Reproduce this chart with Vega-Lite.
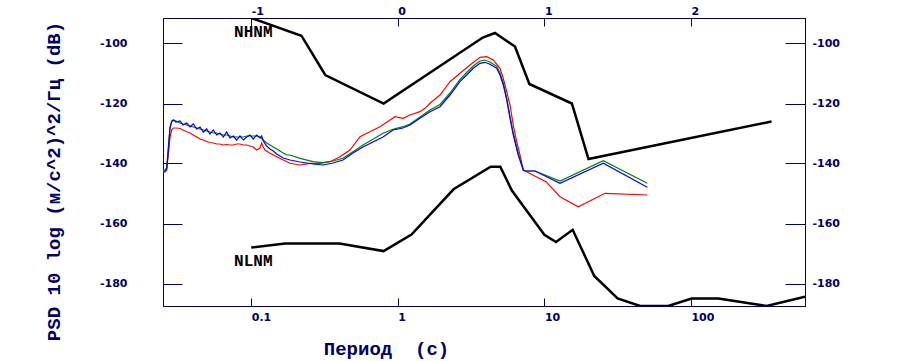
{
  "$schema": "https://vega.github.io/schema/vega-lite/v6.json",
  "width": 642,
  "height": 288,
  "autosize": {"type": "none"},
  "padding": {"left": 163, "top": 18, "right": 100, "bottom": 55},
  "background": "white",
  "config": {
    "view": {"stroke": "#000066", "strokeWidth": 1},
    "axis": {
      "grid": false,
      "labelFont": "DejaVu Sans",
      "labelFontWeight": "bold",
      "labelFontSize": 11,
      "labelColor": "#000066",
      "tickColor": "#000066",
      "domainColor": "#000066",
      "titleColor": "#000066",
      "titleFont": "Liberation Mono",
      "titleFontWeight": "bold",
      "titleFontSize": 19
    }
  },
  "datasets": {
    "nm": [
      {"model": "NHNM", "log_period": -1, "psd_db": -91.5},
      {"model": "NHNM", "log_period": -0.6576, "psd_db": -97.4},
      {"model": "NHNM", "log_period": -0.4949, "psd_db": -110.5},
      {"model": "NHNM", "log_period": -0.0969, "psd_db": -120.0},
      {"model": "NHNM", "log_period": 0.5798, "psd_db": -98.0},
      {"model": "NHNM", "log_period": 0.6628, "psd_db": -96.5},
      {"model": "NHNM", "log_period": 0.7993, "psd_db": -101.0},
      {"model": "NHNM", "log_period": 0.8976, "psd_db": -113.5},
      {"model": "NHNM", "log_period": 1.1875, "psd_db": -120.0},
      {"model": "NHNM", "log_period": 1.301, "psd_db": -138.5},
      {"model": "NHNM", "log_period": 2.55, "psd_db": -126.0},
      {"model": "NLNM", "log_period": -1, "psd_db": -168.0},
      {"model": "NLNM", "log_period": -0.7696, "psd_db": -166.7},
      {"model": "NLNM", "log_period": -0.3979, "psd_db": -166.7},
      {"model": "NLNM", "log_period": -0.0969, "psd_db": -169.2},
      {"model": "NLNM", "log_period": 0.0934, "psd_db": -163.7},
      {"model": "NLNM", "log_period": 0.3802, "psd_db": -148.6},
      {"model": "NLNM", "log_period": 0.6335, "psd_db": -141.1},
      {"model": "NLNM", "log_period": 0.699, "psd_db": -141.1},
      {"model": "NLNM", "log_period": 0.7782, "psd_db": -149.0},
      {"model": "NLNM", "log_period": 1.0, "psd_db": -163.75},
      {"model": "NLNM", "log_period": 1.0792, "psd_db": -166.2},
      {"model": "NLNM", "log_period": 1.1931, "psd_db": -162.1},
      {"model": "NLNM", "log_period": 1.3404, "psd_db": -177.5},
      {"model": "NLNM", "log_period": 1.4997, "psd_db": -185.0},
      {"model": "NLNM", "log_period": 1.6532, "psd_db": -187.5},
      {"model": "NLNM", "log_period": 1.8451, "psd_db": -187.5},
      {"model": "NLNM", "log_period": 2.0043, "psd_db": -185.0},
      {"model": "NLNM", "log_period": 2.1875, "psd_db": -185.0},
      {"model": "NLNM", "log_period": 2.5159, "psd_db": -187.5},
      {"model": "NLNM", "log_period": 2.7782, "psd_db": -184.4}
    ],
    "psd": [
      {"series": "red", "log_period": -1.602, "psd_db": -142.17},
      {"series": "red", "log_period": -1.5884, "psd_db": -142.17},
      {"series": "red", "log_period": -1.5768, "psd_db": -141.5},
      {"series": "red", "log_period": -1.5659, "psd_db": -137.17},
      {"series": "red", "log_period": -1.5543, "psd_db": -131.17},
      {"series": "red", "log_period": -1.5427, "psd_db": -128.83},
      {"series": "red", "log_period": -1.5318, "psd_db": -128.17},
      {"series": "red", "log_period": -1.5134, "psd_db": -128.17},
      {"series": "red", "log_period": -1.4861, "psd_db": -128.33},
      {"series": "red", "log_period": -1.4656, "psd_db": -128.83},
      {"series": "red", "log_period": -1.4404, "psd_db": -129.4},
      {"series": "red", "log_period": -1.4179, "psd_db": -129.83},
      {"series": "red", "log_period": -1.3953, "psd_db": -130.5},
      {"series": "red", "log_period": -1.3721, "psd_db": -131.17},
      {"series": "red", "log_period": -1.3496, "psd_db": -131.83},
      {"series": "red", "log_period": -1.3271, "psd_db": -132.17},
      {"series": "red", "log_period": -1.3039, "psd_db": -132.67},
      {"series": "red", "log_period": -1.2814, "psd_db": -133.0},
      {"series": "red", "log_period": -1.2589, "psd_db": -133.17},
      {"series": "red", "log_period": -1.2357, "psd_db": -133.5},
      {"series": "red", "log_period": -1.2132, "psd_db": -133.5},
      {"series": "red", "log_period": -1.1906, "psd_db": -133.83},
      {"series": "red", "log_period": -1.1675, "psd_db": -133.67},
      {"series": "red", "log_period": -1.1449, "psd_db": -133.83},
      {"series": "red", "log_period": -1.1224, "psd_db": -133.83},
      {"series": "red", "log_period": -1.0992, "psd_db": -133.5},
      {"series": "red", "log_period": -1.0767, "psd_db": -133.5},
      {"series": "red", "log_period": -1.0542, "psd_db": -133.83},
      {"series": "red", "log_period": -1.031, "psd_db": -133.83},
      {"series": "red", "log_period": -1.0085, "psd_db": -134.17},
      {"series": "red", "log_period": -0.986, "psd_db": -134.5},
      {"series": "red", "log_period": -0.9628, "psd_db": -135.5},
      {"series": "red", "log_period": -0.9403, "psd_db": -134.83},
      {"series": "red", "log_period": -0.9287, "psd_db": -133.17},
      {"series": "red", "log_period": -0.9177, "psd_db": -134.5},
      {"series": "red", "log_period": -0.9061, "psd_db": -135.5},
      {"series": "red", "log_period": -0.872, "psd_db": -136.6},
      {"series": "red", "log_period": -0.8263, "psd_db": -137.73},
      {"series": "red", "log_period": -0.7813, "psd_db": -138.83},
      {"series": "red", "log_period": -0.7356, "psd_db": -139.93},
      {"series": "red", "log_period": -0.6674, "psd_db": -140.5},
      {"series": "red", "log_period": -0.5991, "psd_db": -139.93},
      {"series": "red", "log_period": -0.5309, "psd_db": -139.93},
      {"series": "red", "log_period": -0.4627, "psd_db": -139.4},
      {"series": "red", "log_period": -0.3944, "psd_db": -137.73},
      {"series": "red", "log_period": -0.3262, "psd_db": -135.5},
      {"series": "red", "log_period": -0.258, "psd_db": -131.07},
      {"series": "red", "log_period": -0.1898, "psd_db": -129.4},
      {"series": "red", "log_period": -0.1215, "psd_db": -127.73},
      {"series": "red", "log_period": -0.0533, "psd_db": -125.5},
      {"series": "red", "log_period": -0.0192, "psd_db": -124.4},
      {"series": "red", "log_period": 0.0354, "psd_db": -124.93},
      {"series": "red", "log_period": 0.0831, "psd_db": -123.83},
      {"series": "red", "log_period": 0.1514, "psd_db": -122.73},
      {"series": "red", "log_period": 0.1855, "psd_db": -121.6},
      {"series": "red", "log_period": 0.2196, "psd_db": -119.93},
      {"series": "red", "log_period": 0.2878, "psd_db": -117.17},
      {"series": "red", "log_period": 0.3561, "psd_db": -112.73},
      {"series": "red", "log_period": 0.4243, "psd_db": -109.93},
      {"series": "red", "log_period": 0.4925, "psd_db": -107.17},
      {"series": "red", "log_period": 0.5607, "psd_db": -104.6},
      {"series": "red", "log_period": 0.6064, "psd_db": -104.4},
      {"series": "red", "log_period": 0.6515, "psd_db": -105.5},
      {"series": "red", "log_period": 0.6972, "psd_db": -108.27},
      {"series": "red", "log_period": 0.7197, "psd_db": -111.6},
      {"series": "red", "log_period": 0.7429, "psd_db": -116.07},
      {"series": "red", "log_period": 0.7654, "psd_db": -120.5},
      {"series": "red", "log_period": 0.7879, "psd_db": -127.17},
      {"series": "red", "log_period": 0.8111, "psd_db": -132.73},
      {"series": "red", "log_period": 0.8336, "psd_db": -137.17},
      {"series": "red", "log_period": 0.8562, "psd_db": -142.17},
      {"series": "red", "log_period": 0.8678, "psd_db": -142.5},
      {"series": "red", "log_period": 1.011, "psd_db": -146.07},
      {"series": "red", "log_period": 1.1065, "psd_db": -151.07},
      {"series": "red", "log_period": 1.2314, "psd_db": -154.4},
      {"series": "red", "log_period": 1.4136, "psd_db": -149.93},
      {"series": "red", "log_period": 1.7022, "psd_db": -150.5},

      {"series": "green", "log_period": -1.602, "psd_db": -142.5},
      {"series": "green", "log_period": -1.5884, "psd_db": -142.5},
      {"series": "green", "log_period": -1.5768, "psd_db": -141.5},
      {"series": "green", "log_period": -1.5659, "psd_db": -134.83},
      {"series": "green", "log_period": -1.5543, "psd_db": -127.83},
      {"series": "green", "log_period": -1.5427, "psd_db": -125.83},
      {"series": "green", "log_period": -1.5318, "psd_db": -125.5},
      {"series": "green", "log_period": -1.5134, "psd_db": -125.83},
      {"series": "green", "log_period": -1.4861, "psd_db": -126.5},
      {"series": "green", "log_period": -1.4656, "psd_db": -126.83},
      {"series": "green", "log_period": -1.4404, "psd_db": -127.17},
      {"series": "green", "log_period": -1.4179, "psd_db": -127.5},
      {"series": "green", "log_period": -1.3953, "psd_db": -127.83},
      {"series": "green", "log_period": -1.3721, "psd_db": -128.17},
      {"series": "green", "log_period": -1.3496, "psd_db": -128.5},
      {"series": "green", "log_period": -1.3271, "psd_db": -128.83},
      {"series": "green", "log_period": -1.3039, "psd_db": -129.17},
      {"series": "green", "log_period": -1.2814, "psd_db": -129.5},
      {"series": "green", "log_period": -1.2589, "psd_db": -129.83},
      {"series": "green", "log_period": -1.2357, "psd_db": -129.83},
      {"series": "green", "log_period": -1.2132, "psd_db": -130.17},
      {"series": "green", "log_period": -1.1906, "psd_db": -130.5},
      {"series": "green", "log_period": -1.1675, "psd_db": -130.5},
      {"series": "green", "log_period": -1.1449, "psd_db": -130.83},
      {"series": "green", "log_period": -1.1224, "psd_db": -131.17},
      {"series": "green", "log_period": -1.0992, "psd_db": -131.17},
      {"series": "green", "log_period": -1.0767, "psd_db": -131.17},
      {"series": "green", "log_period": -1.0542, "psd_db": -131.17},
      {"series": "green", "log_period": -1.031, "psd_db": -130.83},
      {"series": "green", "log_period": -1.0085, "psd_db": -130.83},
      {"series": "green", "log_period": -0.986, "psd_db": -130.83},
      {"series": "green", "log_period": -0.9628, "psd_db": -130.83},
      {"series": "green", "log_period": -0.9403, "psd_db": -131.17},
      {"series": "green", "log_period": -0.9177, "psd_db": -132.17},
      {"series": "green", "log_period": -0.8945, "psd_db": -133.17},
      {"series": "green", "log_period": -0.872, "psd_db": -133.83},
      {"series": "green", "log_period": -0.8495, "psd_db": -134.5},
      {"series": "green", "log_period": -0.8263, "psd_db": -135.17},
      {"series": "green", "log_period": -0.8038, "psd_db": -135.83},
      {"series": "green", "log_period": -0.7813, "psd_db": -136.5},
      {"series": "green", "log_period": -0.7581, "psd_db": -137.17},
      {"series": "green", "log_period": -0.7356, "psd_db": -137.17},
      {"series": "green", "log_period": -0.6674, "psd_db": -138.27},
      {"series": "green", "log_period": -0.5787, "psd_db": -139.4},
      {"series": "green", "log_period": -0.5104, "psd_db": -139.73},
      {"series": "green", "log_period": -0.4422, "psd_db": -139.17},
      {"series": "green", "log_period": -0.374, "psd_db": -138.27},
      {"series": "green", "log_period": -0.3058, "psd_db": -136.07},
      {"series": "green", "log_period": -0.2375, "psd_db": -133.83},
      {"series": "green", "log_period": -0.1693, "psd_db": -131.93},
      {"series": "green", "log_period": -0.1011, "psd_db": -129.93},
      {"series": "green", "log_period": -0.0328, "psd_db": -128.6},
      {"series": "green", "log_period": 0.0354, "psd_db": -127.73},
      {"series": "green", "log_period": 0.0831, "psd_db": -126.83},
      {"series": "green", "log_period": 0.1514, "psd_db": -124.5},
      {"series": "green", "log_period": 0.2196, "psd_db": -122.17},
      {"series": "green", "log_period": 0.2878, "psd_db": -120.33},
      {"series": "green", "log_period": 0.3561, "psd_db": -116.5},
      {"series": "green", "log_period": 0.4243, "psd_db": -112.0},
      {"series": "green", "log_period": 0.47, "psd_db": -109.67},
      {"series": "green", "log_period": 0.515, "psd_db": -107.5},
      {"series": "green", "log_period": 0.5607, "psd_db": -105.83},
      {"series": "green", "log_period": 0.5948, "psd_db": -105.5},
      {"series": "green", "log_period": 0.629, "psd_db": -106.17},
      {"series": "green", "log_period": 0.6747, "psd_db": -107.67},
      {"series": "green", "log_period": 0.6972, "psd_db": -109.83},
      {"series": "green", "log_period": 0.7197, "psd_db": -113.17},
      {"series": "green", "log_period": 0.7429, "psd_db": -118.17},
      {"series": "green", "log_period": 0.7654, "psd_db": -124.17},
      {"series": "green", "log_period": 0.7879, "psd_db": -129.83},
      {"series": "green", "log_period": 0.822, "psd_db": -136.83},
      {"series": "green", "log_period": 0.8562, "psd_db": -142.17},
      {"series": "green", "log_period": 0.8678, "psd_db": -142.5},
      {"series": "green", "log_period": 0.936, "psd_db": -142.5},
      {"series": "green", "log_period": 1.1065, "psd_db": -145.83},
      {"series": "green", "log_period": 1.402, "psd_db": -139.07},
      {"series": "green", "log_period": 1.7022, "psd_db": -146.6},

      {"series": "blue", "log_period": -1.602, "psd_db": -142.83},
      {"series": "blue", "log_period": -1.5884, "psd_db": -142.83},
      {"series": "blue", "log_period": -1.5768, "psd_db": -142.17},
      {"series": "blue", "log_period": -1.5659, "psd_db": -135.5},
      {"series": "blue", "log_period": -1.5543, "psd_db": -128.17},
      {"series": "blue", "log_period": -1.5427, "psd_db": -126.17},
      {"series": "blue", "log_period": -1.5318, "psd_db": -125.5},
      {"series": "blue", "log_period": -1.5134, "psd_db": -126.17},
      {"series": "blue", "log_period": -1.4861, "psd_db": -125.83},
      {"series": "blue", "log_period": -1.4656, "psd_db": -127.17},
      {"series": "blue", "log_period": -1.4404, "psd_db": -126.5},
      {"series": "blue", "log_period": -1.4179, "psd_db": -127.83},
      {"series": "blue", "log_period": -1.3953, "psd_db": -126.83},
      {"series": "blue", "log_period": -1.3721, "psd_db": -128.5},
      {"series": "blue", "log_period": -1.3496, "psd_db": -127.83},
      {"series": "blue", "log_period": -1.3271, "psd_db": -129.5},
      {"series": "blue", "log_period": -1.3039, "psd_db": -128.5},
      {"series": "blue", "log_period": -1.2814, "psd_db": -130.17},
      {"series": "blue", "log_period": -1.2589, "psd_db": -128.83},
      {"series": "blue", "log_period": -1.2357, "psd_db": -130.5},
      {"series": "blue", "log_period": -1.2132, "psd_db": -129.83},
      {"series": "blue", "log_period": -1.1906, "psd_db": -131.17},
      {"series": "blue", "log_period": -1.1675, "psd_db": -129.5},
      {"series": "blue", "log_period": -1.1449, "psd_db": -131.5},
      {"series": "blue", "log_period": -1.1224, "psd_db": -130.83},
      {"series": "blue", "log_period": -1.0992, "psd_db": -132.17},
      {"series": "blue", "log_period": -1.0767, "psd_db": -130.83},
      {"series": "blue", "log_period": -1.0542, "psd_db": -132.17},
      {"series": "blue", "log_period": -1.031, "psd_db": -131.17},
      {"series": "blue", "log_period": -1.0085, "psd_db": -130.5},
      {"series": "blue", "log_period": -0.986, "psd_db": -131.83},
      {"series": "blue", "log_period": -0.9628, "psd_db": -130.5},
      {"series": "blue", "log_period": -0.9403, "psd_db": -131.5},
      {"series": "blue", "log_period": -0.9287, "psd_db": -130.83},
      {"series": "blue", "log_period": -0.9177, "psd_db": -132.5},
      {"series": "blue", "log_period": -0.8945, "psd_db": -134.17},
      {"series": "blue", "log_period": -0.872, "psd_db": -135.17},
      {"series": "blue", "log_period": -0.8495, "psd_db": -135.83},
      {"series": "blue", "log_period": -0.8263, "psd_db": -136.83},
      {"series": "blue", "log_period": -0.8038, "psd_db": -137.5},
      {"series": "blue", "log_period": -0.7813, "psd_db": -138.17},
      {"series": "blue", "log_period": -0.7581, "psd_db": -138.5},
      {"series": "blue", "log_period": -0.7356, "psd_db": -138.83},
      {"series": "blue", "log_period": -0.6674, "psd_db": -139.5},
      {"series": "blue", "log_period": -0.5787, "psd_db": -140.17},
      {"series": "blue", "log_period": -0.5104, "psd_db": -140.5},
      {"series": "blue", "log_period": -0.4422, "psd_db": -139.83},
      {"series": "blue", "log_period": -0.374, "psd_db": -138.83},
      {"series": "blue", "log_period": -0.3058, "psd_db": -136.5},
      {"series": "blue", "log_period": -0.2375, "psd_db": -134.5},
      {"series": "blue", "log_period": -0.1693, "psd_db": -132.83},
      {"series": "blue", "log_period": -0.1011, "psd_db": -131.17},
      {"series": "blue", "log_period": -0.0328, "psd_db": -128.83},
      {"series": "blue", "log_period": 0.0354, "psd_db": -128.17},
      {"series": "blue", "log_period": 0.0831, "psd_db": -127.17},
      {"series": "blue", "log_period": 0.1514, "psd_db": -124.93},
      {"series": "blue", "log_period": 0.2196, "psd_db": -122.73},
      {"series": "blue", "log_period": 0.2878, "psd_db": -121.07},
      {"series": "blue", "log_period": 0.3561, "psd_db": -117.17},
      {"series": "blue", "log_period": 0.4243, "psd_db": -112.73},
      {"series": "blue", "log_period": 0.47, "psd_db": -110.5},
      {"series": "blue", "log_period": 0.515, "psd_db": -108.27},
      {"series": "blue", "log_period": 0.5607, "psd_db": -106.6},
      {"series": "blue", "log_period": 0.5948, "psd_db": -106.27},
      {"series": "blue", "log_period": 0.629, "psd_db": -106.93},
      {"series": "blue", "log_period": 0.6747, "psd_db": -108.27},
      {"series": "blue", "log_period": 0.6972, "psd_db": -110.5},
      {"series": "blue", "log_period": 0.7197, "psd_db": -113.83},
      {"series": "blue", "log_period": 0.7429, "psd_db": -118.83},
      {"series": "blue", "log_period": 0.7654, "psd_db": -124.93},
      {"series": "blue", "log_period": 0.7879, "psd_db": -130.5},
      {"series": "blue", "log_period": 0.822, "psd_db": -137.17},
      {"series": "blue", "log_period": 0.8562, "psd_db": -142.17},
      {"series": "blue", "log_period": 0.8678, "psd_db": -142.5},
      {"series": "blue", "log_period": 0.936, "psd_db": -142.5},
      {"series": "blue", "log_period": 1.1065, "psd_db": -146.6},
      {"series": "blue", "log_period": 1.402, "psd_db": -139.93},
      {"series": "blue", "log_period": 1.7022, "psd_db": -147.93}
    ],
    "labels": [
      {"label": "NHNM", "log_period": -0.986, "psd_db": -96.17},
      {"label": "NLNM", "log_period": -0.986, "psd_db": -172.43}
    ]
  },
  "layer": [
    {
      "data": {"name": "nm"},
      "transform": [{"filter": "datum.model == 'NHNM'"}],
      "mark": {"type": "line", "color": "black", "strokeWidth": 2.5, "clip": true},
      "encoding": {
        "x": {"field": "log_period", "type": "quantitative",
          "scale": {"domain": [-1.60206, 2.77815], "nice": false, "zero": false},
          "axis": {"orient": "bottom", "values": [-1, 0, 1, 2], "tickSize": -8, "labelPadding": 13,
            "labelAlign": "left", "labelExpr": "format(pow(10, datum.value), '~g')",
            "title": "Период\u00a0 (с)", "titleX": 223, "titleY": 42, "titleBaseline": "middle", "titleAlign": "center", "titleAnchor": null}},
        "y": {"field": "psd_db", "type": "quantitative",
          "scale": {"domain": [-187.5, -91.5], "nice": false, "zero": false},
          "axis": {"orient": "left", "values": [-100, -120, -140, -160, -180], "tickSize": -19, "labelPadding": 55,
            "labelExpr": "'' + datum.value",
            "title": "PSD 10 log (м/с^2)^2/Гц (dB)", "titleX": -110, "titleY": 163, "titleAngle": -90,
            "titleBaseline": "middle", "titleAlign": "center", "titleAnchor": null}}
      }
    },
    {
      "data": {"name": "nm"},
      "transform": [{"filter": "datum.model == 'NLNM'"}],
      "mark": {"type": "line", "color": "black", "strokeWidth": 2.5, "clip": true},
      "encoding": {
        "x": {"field": "log_period", "type": "quantitative", "axis": null},
        "y": {"field": "psd_db", "type": "quantitative", "axis": null}
      }
    },
    {
      "data": {"name": "psd"},
      "transform": [{"filter": "datum.series == 'red'"}],
      "mark": {"type": "line", "color": "#ff0000", "strokeWidth": 1.2, "clip": true},
      "encoding": {
        "x": {"field": "log_period", "type": "quantitative",
          "axis": {"orient": "top", "values": [-1, 0, 1, 2], "tickSize": -8, "labelPadding": 10,
            "labelAlign": "left", "labelExpr": "'' + datum.value", "title": null}},
        "y": {"field": "psd_db", "type": "quantitative",
          "axis": {"orient": "right", "values": [-100, -120, -140, -160, -180], "tickSize": -20, "labelPadding": 27,
            "labelExpr": "'' + datum.value", "title": null}}
      }
    },
    {
      "data": {"name": "psd"},
      "transform": [{"filter": "datum.series == 'green'"}],
      "mark": {"type": "line", "color": "#008000", "strokeWidth": 1.2, "clip": true},
      "encoding": {
        "x": {"field": "log_period", "type": "quantitative", "axis": null},
        "y": {"field": "psd_db", "type": "quantitative", "axis": null}
      }
    },
    {
      "data": {"name": "psd"},
      "transform": [{"filter": "datum.series == 'blue'"}],
      "mark": {"type": "line", "color": "#0000ff", "strokeWidth": 1.2, "clip": true},
      "encoding": {
        "x": {"field": "log_period", "type": "quantitative", "axis": null},
        "y": {"field": "psd_db", "type": "quantitative", "axis": null}
      }
    },
    {
      "data": {"name": "labels"},
      "mark": {"type": "text", "font": "Liberation Mono", "fontWeight": "bold", "fontSize": 16, "color": "black", "align": "center", "baseline": "middle"},
      "encoding": {
        "x": {"field": "log_period", "type": "quantitative", "axis": null},
        "y": {"field": "psd_db", "type": "quantitative", "axis": null},
        "text": {"field": "label"}
      }
    }
  ],
  "resolve": {"axis": {"x": "independent", "y": "independent"}}
}
